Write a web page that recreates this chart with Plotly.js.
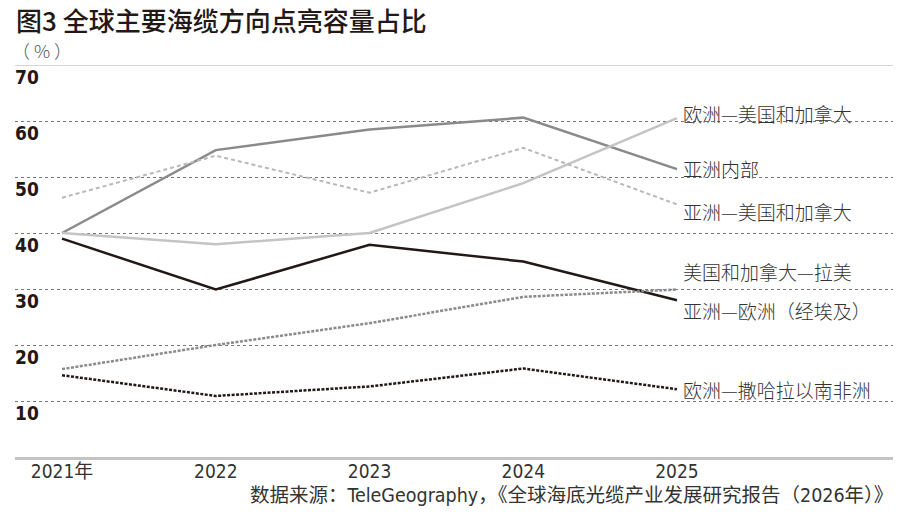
<!DOCTYPE html>
<html><head><meta charset="utf-8">
<script src="https://cdn.plot.ly/plotly-3.0.1.min.js"></script>
<style>html,body{margin:0;padding:0;background:#fff}#chart{width:900px;height:522px}</style>
</head><body><div id="chart"></div>
<script>
// ---- data ----
const years = [2021, 2022, 2023, 2024, 2025];
const yearLabels = ["2021年", "2022", "2023", "2024", "2025"];
const seriesNames = ["亚洲内部", "欧洲—美国和加拿大", "亚洲—美国和加拿大", "亚洲—欧洲（经埃及）", "美国和加拿大—拉美", "欧洲—撒哈拉以南非洲"];
const asiaIntra = [40, 54.8, 58.5, 60.6, 51.4];
const europeUSCanada = [40, 38.0, 40.0, 48.9, 60.5];
const asiaUSCanada = [46.3, 53.8, 47.2, 55.2, 45.1];
const asiaEuropeEgypt = [39.0, 29.9, 37.9, 34.9, 28.0];
const usCanadaLatam = [15.7, 20.0, 23.9, 28.6, 29.9];
const europeSubSahara = [14.6, 10.9, 12.6, 15.8, 12.1];
const yTicks = [10, 20, 30, 40, 50, 60, 70];
const titleText = "图3 全球主要海缆方向点亮容量占比";
const unitText = "（ % ）";
const sourceText = "数据来源：TeleGeography，《全球海底光缆产业发展研究报告（2026年）》";

// ---- styles ----
const numFont = "'DejaVu Sans Condensed', 'Noto Sans CJK SC', sans-serif";
const cjkFont = "'Noto Sans CJK SC', sans-serif";
const seriesValues = [asiaIntra, europeUSCanada, asiaUSCanada, asiaEuropeEgypt, usCanadaLatam, europeSubSahara];
const styles = [
  {color: "#8a8a8a", width: 2.5, dash: "solid", lblShift: 1},
  {color: "#c4c4c4", width: 2.5, dash: "solid", lblShift: 5},
  {color: "#b8b8b8", width: 2, dash: "4px,3px", lblShift: -7},
  {color: "#231815", width: 2.5, dash: "solid", lblShift: -10},
  {color: "#8a8a8a", width: 2.5, dash: "3px,1.5px", lblShift: 18},
  {color: "#231815", width: 2.5, dash: "3px,1.5px", lblShift: 0}
];

const traces = seriesValues.map((vals, i) => ({
  type: "scatter", mode: "lines", x: years, y: vals, name: seriesNames[i],
  line: {color: styles[i].color, width: styles[i].width, dash: styles[i].dash},
  hoverinfo: "skip"
}));

const annotations = [];
annotations.push({text: titleText, xref: "paper", yref: "paper", x: 0, y: 1, xanchor: "left", yanchor: "middle",
  yshift: 46, xshift: -1, showarrow: false, font: {family: cjkFont, size: 26, color: "#231815", weight: 500}});
annotations.push({text: unitText, xref: "paper", yref: "paper", x: 0, y: 1, xanchor: "left", yanchor: "middle",
  yshift: 15, xshift: -5, showarrow: false, font: {family: cjkFont, size: 18, color: "#555", weight: 300}});
annotations.push({text: sourceText, xref: "paper", yref: "paper", x: 1, y: 0, xanchor: "right", yanchor: "middle",
  yshift: -38, xshift: 2, showarrow: false, font: {family: numFont, size: 19.5, color: "#333"}});
yTicks.forEach(v => annotations.push({text: String(v), xref: "paper", yref: "y", x: 0, y: v, xanchor: "left", yanchor: "top",
  yshift: 1, xshift: -2, showarrow: false, font: {family: numFont, size: 19, color: "#231815", weight: "bold"}}));
seriesValues.forEach((vals, i) => annotations.push({text: seriesNames[i], xref: "x", yref: "y",
  x: years[years.length - 1], y: vals[vals.length - 1], xanchor: "left", yanchor: "middle",
  xshift: 4, yshift: styles[i].lblShift, showarrow: false, font: {family: cjkFont, size: 19, color: "#333", weight: 300}}));

const layout = {
  width: 900, height: 522,
  margin: {l: 15, r: 7, t: 65, b: 65},
  paper_bgcolor: "#fff", plot_bgcolor: "#fff",
  showlegend: false,
  xaxis: {
    range: [2020.694, 2026.405], tickvals: years, ticktext: yearLabels,
    showgrid: false, zeroline: false, showline: true, linecolor: "#c4c4c4", linewidth: 3,
    ticks: "", ticklen: 0, ticklabelstandoff: -5, tickfont: {family: numFont, size: 19, color: "#333"}
  },
  yaxis: {
    range: [0, 70], tickvals: yTicks.slice(0, -1), showticklabels: false,
    showgrid: true, gridcolor: "#777", griddash: "dot", gridwidth: 1,
    zeroline: false, showline: false, ticks: ""
  },
  shapes: [{type: "line", xref: "paper", yref: "y", x0: 0, x1: 1, y0: 70, y1: 70, line: {color: "#aaa", width: 1}}],
  annotations: annotations
};
Plotly.newPlot("chart", traces, layout, {staticPlot: true, displayModeBar: false});
</script></body></html>
